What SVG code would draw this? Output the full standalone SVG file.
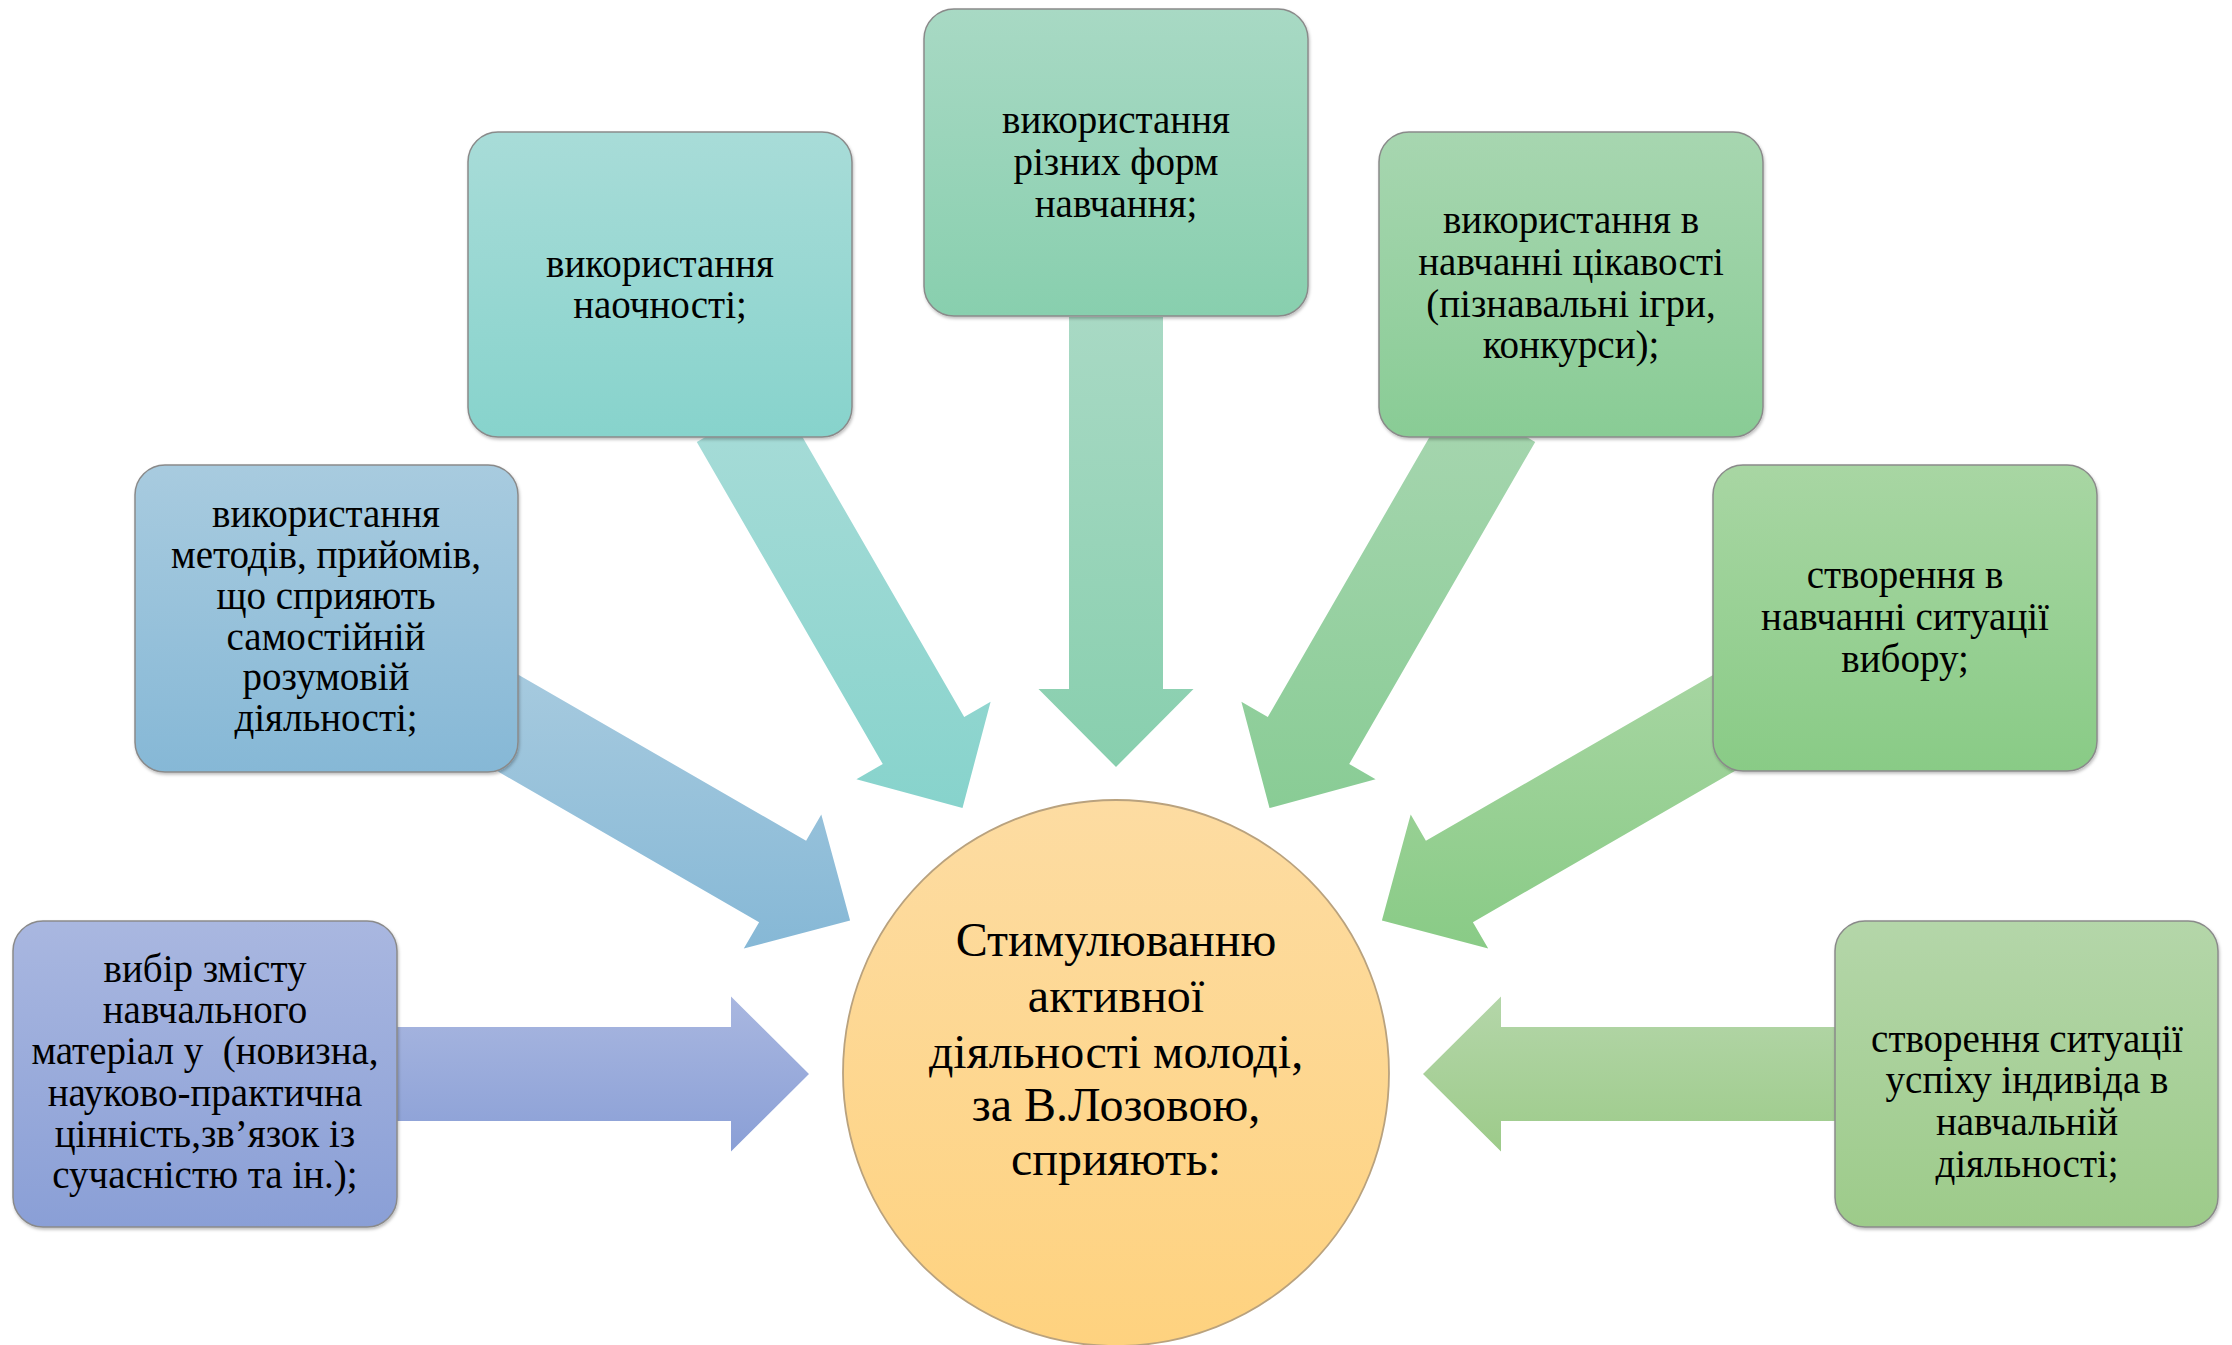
<svg xmlns="http://www.w3.org/2000/svg" width="2232" height="1345" viewBox="0 0 2232 1345">
<defs>
<linearGradient id="g1" x1="0" y1="0" x2="0" y2="1"><stop offset="0" stop-color="#A9B7E0"/><stop offset="1" stop-color="#8A9FD6"/></linearGradient>
<linearGradient id="g2" x1="0" y1="0" x2="0" y2="1"><stop offset="0" stop-color="#A8CBDF"/><stop offset="1" stop-color="#86B8D6"/></linearGradient>
<linearGradient id="g3" x1="0" y1="0" x2="0" y2="1"><stop offset="0" stop-color="#A8DCD8"/><stop offset="1" stop-color="#87D3CC"/></linearGradient>
<linearGradient id="g4" x1="0" y1="0" x2="0" y2="1"><stop offset="0" stop-color="#A8D9C4"/><stop offset="1" stop-color="#88CFAE"/></linearGradient>
<linearGradient id="g5" x1="0" y1="0" x2="0" y2="1"><stop offset="0" stop-color="#A7D6B0"/><stop offset="1" stop-color="#89CC95"/></linearGradient>
<linearGradient id="g6" x1="0" y1="0" x2="0" y2="1"><stop offset="0" stop-color="#A8D6A3"/><stop offset="1" stop-color="#89CB86"/></linearGradient>
<linearGradient id="g7" x1="0" y1="0" x2="0" y2="1"><stop offset="0" stop-color="#B4D6A9"/><stop offset="1" stop-color="#9DCB8A"/></linearGradient>
<linearGradient id="gc" x1="0" y1="0" x2="0" y2="1"><stop offset="0" stop-color="#FDDCA2"/><stop offset="1" stop-color="#FED27F"/></linearGradient>
<filter id="sh" x="-5%" y="-5%" width="112%" height="112%"><feDropShadow dx="1" dy="2" stdDeviation="1.5" flood-color="#000" flood-opacity="0.25"/></filter>
</defs>
<style>
.box{stroke:#8a8a8a;stroke-width:1.5;filter:url(#sh)}
.t{font-family:"Liberation Serif","Times New Roman",serif;font-size:39px;fill:#000;text-anchor:middle}
.tc{font-family:"Liberation Serif","Times New Roman",serif;font-size:48px;fill:#000;text-anchor:middle}
</style>
<g id="connectors">
<polygon fill="url(#g1)" points="359,1027 731,1027 731,996.5 809,1074 731,1151.5 731,1121 359,1121"/>
<polygon fill="url(#g2)" points="436.9,736.2 759.1,922.2 743.8,948.6 850.1,920.5 821.3,814.4 806.1,840.8 483.9,654.8"/>
<polygon fill="url(#g3)" points="696.8,441.9 882.8,764.1 856.4,779.3 962.5,808.1 990.6,701.8 964.2,717.1 778.2,394.9"/>
<polygon fill="url(#g4)" points="1069,317 1069,689 1038.5,689 1116,767 1193.5,689 1163,689 1163,317"/>
<polygon fill="url(#g5)" points="1453.8,394.9 1267.8,717.1 1241.4,701.8 1269.5,808.1 1375.6,779.3 1349.2,764.1 1535.2,441.9"/>
<polygon fill="url(#g6)" points="1748.1,654.8 1425.9,840.8 1410.7,814.4 1381.9,920.5 1488.2,948.6 1472.9,922.2 1795.1,736.2"/>
<polygon fill="url(#g7)" points="1873,1027 1501,1027 1501,996.5 1423,1074 1501,1151.5 1501,1121 1873,1121"/>
</g>
<g id="center">
<circle cx="1116" cy="1073" r="273" fill="url(#gc)" stroke="#B9A27E" stroke-width="1.8"/>
<text class="tc" x="1116" y="956">Стимулюванню</text>
<text class="tc" x="1116" y="1012">активної</text>
<text class="tc" x="1116" y="1068">діяльності молоді,</text>
<text class="tc" x="1116" y="1121">за В.Лозовою,</text>
<text class="tc" x="1116" y="1175">сприяють:</text>
</g>
<g id="n1">
<rect class="box" x="13" y="921" width="384" height="306" rx="30" fill="url(#g1)"/>
<text class="t" x="205" y="982">вибір змісту</text>
<text class="t" x="205" y="1023">навчального</text>
<text class="t" x="205" y="1064" style="white-space:pre">матеріал у  (новизна,</text>
<text class="t" x="205" y="1106">науково-практична</text>
<text class="t" x="205" y="1147">цінність,зв’язок із</text>
<text class="t" x="205" y="1188">сучасністю та ін.);</text>
</g>
<g id="n2">
<rect class="box" x="135" y="465" width="383" height="307" rx="30" fill="url(#g2)"/>
<text class="t" x="326" y="527">використання</text>
<text class="t" x="326" y="568">методів, прийомів,</text>
<text class="t" x="326" y="609">що сприяють</text>
<text class="t" x="326" y="650">самостійній</text>
<text class="t" x="326" y="690">розумовій</text>
<text class="t" x="326" y="731">діяльності;</text>
</g>
<g id="n3">
<rect class="box" x="468" y="132" width="384" height="305" rx="30" fill="url(#g3)"/>
<text class="t" x="660" y="277">використання</text>
<text class="t" x="660" y="318">наочності;</text>
</g>
<g id="n4">
<rect class="box" x="924" y="9" width="384" height="307" rx="30" fill="url(#g4)"/>
<text class="t" x="1116" y="133">використання</text>
<text class="t" x="1116" y="175">різних форм</text>
<text class="t" x="1116" y="217">навчання;</text>
</g>
<g id="n5">
<rect class="box" x="1379" y="132" width="384" height="305" rx="30" fill="url(#g5)"/>
<text class="t" x="1571" y="233">використання в</text>
<text class="t" x="1571" y="275">навчанні цікавості</text>
<text class="t" x="1571" y="317">(пізнавальні ігри,</text>
<text class="t" x="1571" y="358">конкурси);</text>
</g>
<g id="n6">
<rect class="box" x="1713" y="465" width="384" height="306" rx="30" fill="url(#g6)"/>
<text class="t" x="1905" y="588">створення в</text>
<text class="t" x="1905" y="630">навчанні ситуації</text>
<text class="t" x="1905" y="672">вибору;</text>
</g>
<g id="n7">
<rect class="box" x="1835" y="921" width="383" height="306" rx="30" fill="url(#g7)"/>
<text class="t" x="2027" y="1052">створення ситуації</text>
<text class="t" x="2027" y="1093">успіху індивіда в</text>
<text class="t" x="2027" y="1135">навчальній</text>
<text class="t" x="2027" y="1177">діяльності;</text>
</g>
</svg>
